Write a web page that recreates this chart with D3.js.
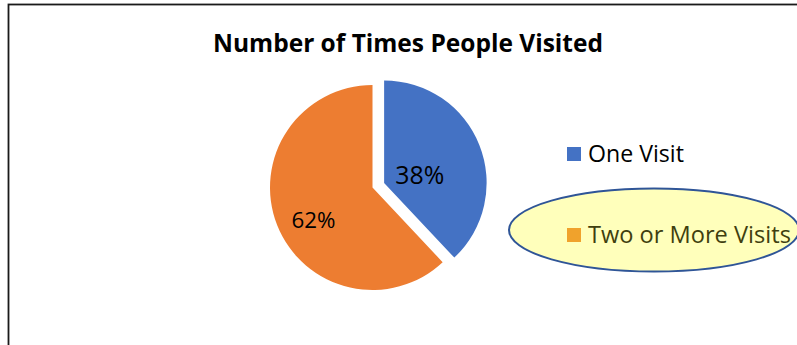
<!DOCTYPE html>
<html>
<head>
<meta charset="utf-8">
<script src="https://cdn.jsdelivr.net/npm/d3@7"></script>
<style>
  html, body { margin: 0; padding: 0; background: #fff; }
  svg { display: block; }
</style>
</head>
<body>
<svg id="chart" width="797" height="345"></svg>
<script>
const title = "Number of Times People Visited";
const categories = ["One Visit", "Two or More Visits"];
const values = [38, 62];
const labels = ["38%", "62%"];
const sliceColors = ["#4472C4", "#ED7D31"];
const legendColors = ["#4472C4", "#F0A22C"];

const svg = d3.select("#chart");
const W = 797, H = 345;
const font = "'Open Sans', 'Noto Sans', sans-serif";

// chart frame
svg.append("rect")
  .attr("x", 8.5).attr("y", 4.5)
  .attr("width", W + 10).attr("height", H + 10)
  .attr("fill", "#fff")
  .attr("stroke", "#1a1a1a").attr("stroke-width", 1.8);

function fit(sel, targetWidth) {
  const node = sel.node();
  const fs = parseFloat(sel.attr("font-size"));
  const w = node.getComputedTextLength();
  sel.attr("font-size", fs * targetWidth / w);
}

// title
const t = svg.append("text")
  .attr("x", 408).attr("y", 52)
  .attr("text-anchor", "middle")
  .attr("font-family", font)
  .attr("font-weight", "bold")
  .attr("font-size", 22)
  .attr("fill", "#000")
  .text(title);
fit(t, 390);

// pie
const cx = 372.5, cy = 187.5, r = 102.5;
const pie = d3.pie().sort(null).value(d => d)(values);
const arc = d3.arc().innerRadius(0).outerRadius(r);
const explode = [12.5, 0];
const labelR = [0.355, 0.657];
const labelShift = [9.7, -7.2].map(a => a * Math.PI / 180);

const g = svg.append("g").attr("transform", `translate(${cx},${cy})`);
pie.forEach((p, i) => {
  const mid = (p.startAngle + p.endAngle) / 2;
  const ox = Math.sin(mid) * explode[i];
  const oy = -Math.cos(mid) * explode[i];
  const sg = g.append("g").attr("transform", `translate(${ox},${oy})`);
  sg.append("path")
    .attr("d", arc(p))
    .attr("fill", sliceColors[i]);
  const lr = r * labelR[i];
  const la = mid + labelShift[i];
  const lt = sg.append("text")
    .attr("x", Math.sin(la) * lr)
    .attr("y", -Math.cos(la) * lr)
    .attr("dy", "0.36em")
    .attr("text-anchor", "middle")
    .attr("font-family", font)
    .attr("font-size", 20)
    .attr("fill", "#000")
    .text(labels[i]);
  fit(lt, i === 0 ? 49 : 44);
});

// highlight ellipse around second legend entry
svg.append("ellipse")
  .attr("cx", 654).attr("cy", 230)
  .attr("rx", 145).attr("ry", 41.5)
  .attr("fill", "#FFFFBB")
  .attr("stroke", "#2F5597").attr("stroke-width", 2);

// legend
const legendY = [154, 235];
const legendText = ["#000", "#3F3F0F"];
categories.forEach((c, i) => {
  svg.append("rect")
    .attr("x", 567).attr("y", legendY[i] - 7)
    .attr("width", 14).attr("height", 14)
    .attr("fill", legendColors[i]);
  const lt = svg.append("text")
    .attr("x", 588).attr("y", legendY[i] + 7.5)
    .attr("font-family", font)
    .attr("font-size", 20)
    .attr("fill", legendText[i])
    .text(c);
  fit(lt, i === 0 ? 96 : 203);
});
</script>
</body>
</html>
